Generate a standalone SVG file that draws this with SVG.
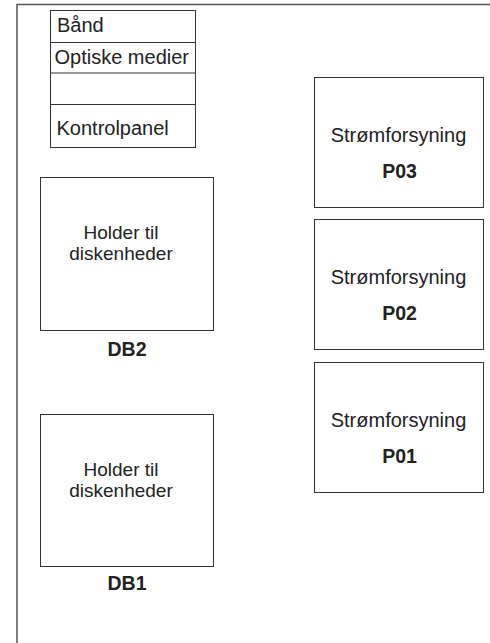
<svg xmlns="http://www.w3.org/2000/svg" width="490" height="643" viewBox="0 0 490 643">
<style>
.box{fill:#fff;stroke:#333;stroke-width:1}
.frame{fill:none;stroke:#555;stroke-width:1.5}
.t{font-family:"Liberation Sans",Arial,sans-serif;font-size:20px;fill:#222}
.h{font-family:"Liberation Sans",Arial,sans-serif;font-size:19px;fill:#222;text-anchor:middle}
.c{text-anchor:middle}
.b{font-family:"Liberation Sans",Arial,sans-serif;font-size:19.5px;font-weight:bold;fill:#222;text-anchor:middle}
</style>
<rect width="490" height="643" fill="#fff"/>
<g id="frame">
<path class="frame" d="M17,643 V4.5 H490"/>
</g>
<g id="panel">
<rect class="box" x="50.5" y="10.5" width="145" height="137"/>
<line x1="50.5" y1="42.5" x2="195.5" y2="42.5" stroke="#333"/>
<line x1="50.5" y1="73" x2="195.5" y2="73" stroke="#333"/>
<line x1="50.5" y1="104.5" x2="195.5" y2="104.5" stroke="#333"/>
<text class="t" x="57" y="31.5">Bånd</text>
<text class="t" x="54.5" y="63.5">Optiske medier</text>
<text class="t" x="56.5" y="135">Kontrolpanel</text>
</g>
<g id="db2">
<rect class="box" x="40.5" y="177.5" width="173" height="153"/>
<text class="h" x="121" y="239">Holder til</text>
<text class="h" x="121" y="260">diskenheder</text>
<text class="b" x="127" y="355.5">DB2</text>
</g>
<g id="db1">
<rect class="box" x="40.5" y="414.5" width="173" height="152"/>
<text class="h" x="121" y="476">Holder til</text>
<text class="h" x="121" y="497">diskenheder</text>
<text class="b" x="127" y="590">DB1</text>
</g>
<g id="p03">
<rect class="box" x="314.5" y="77.5" width="169" height="130"/>
<text class="t c" x="398.5" y="142">Strømforsyning</text>
<text class="b" x="399.5" y="178">P03</text>
</g>
<g id="p02">
<rect class="box" x="314.5" y="219.5" width="169" height="130"/>
<text class="t c" x="398.5" y="284">Strømforsyning</text>
<text class="b" x="399.5" y="320">P02</text>
</g>
<g id="p01">
<rect class="box" x="314.5" y="362.5" width="169" height="130"/>
<text class="t c" x="398.5" y="426.5">Strømforsyning</text>
<text class="b" x="399.5" y="463">P01</text>
</g>
<g id="connectors"></g>
</svg>
